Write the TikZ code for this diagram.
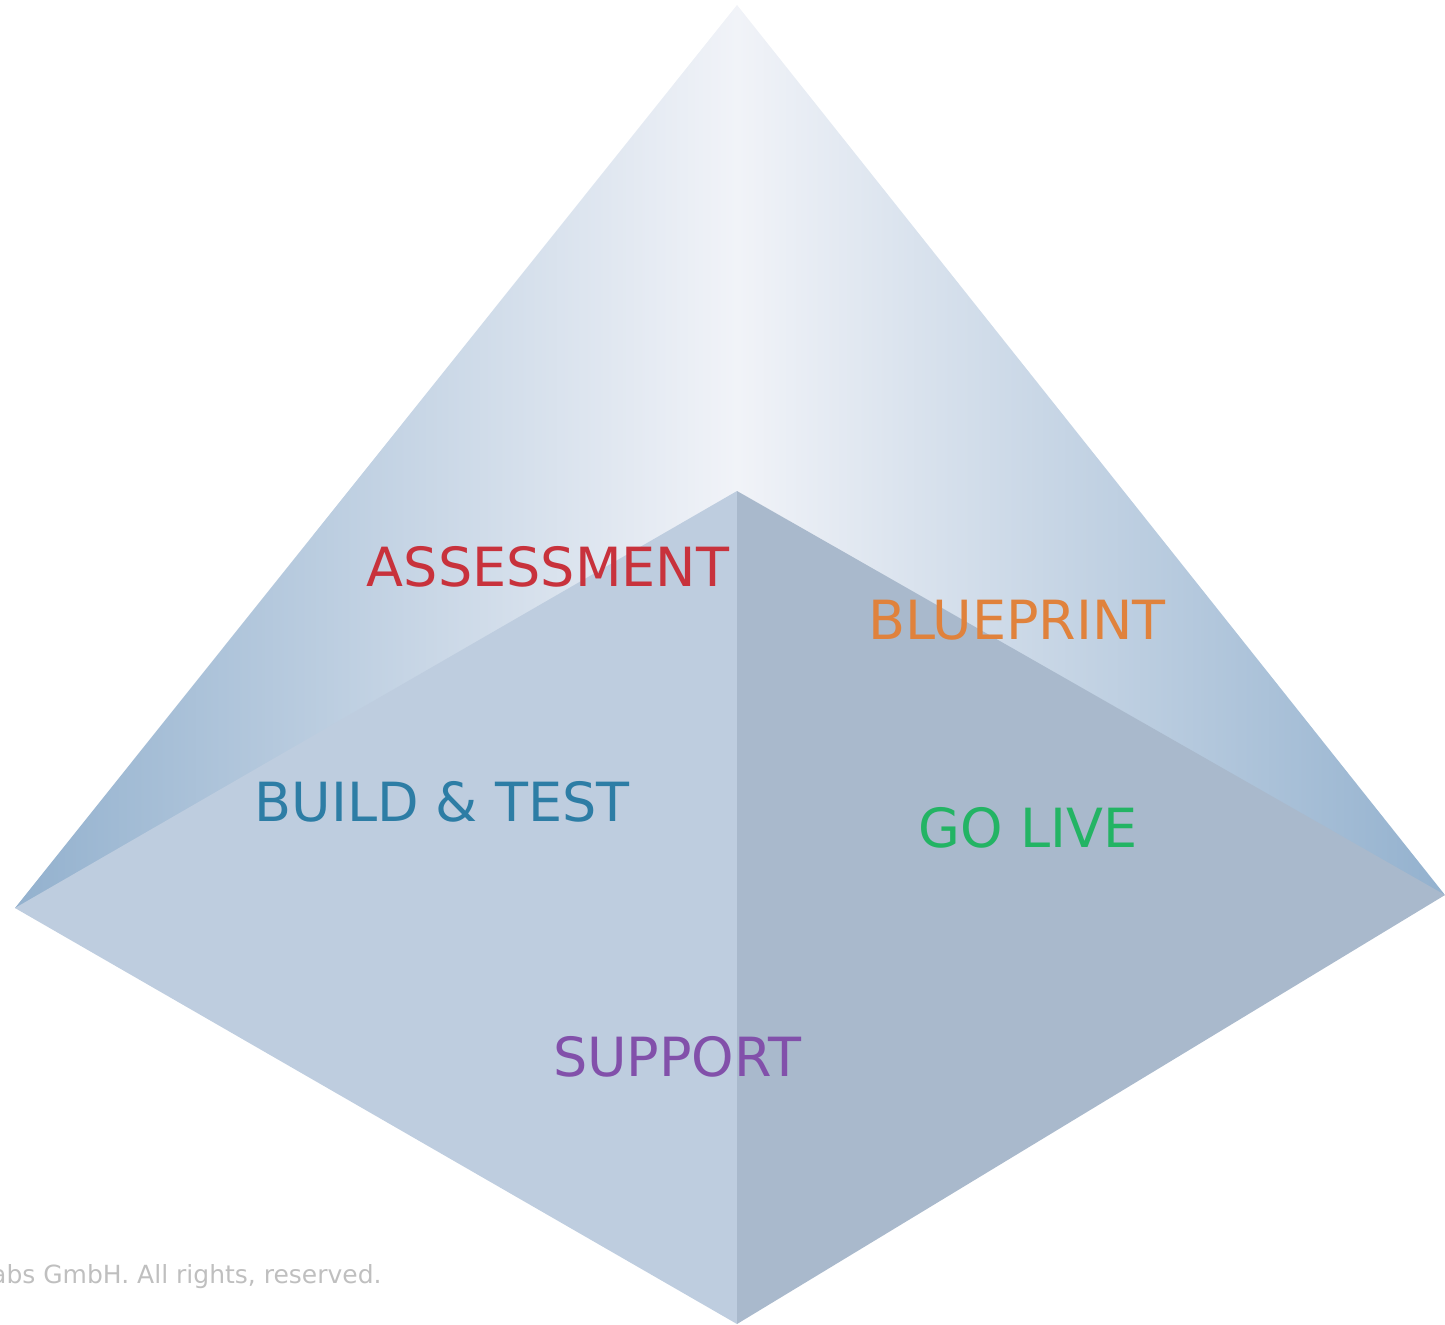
\documentclass[tikz,border=0pt]{standalone}
\usepackage{fontspec}
\setmainfont{DejaVu Sans}
\definecolor{edgeblue}{RGB}{147,177,206}
\definecolor{midwhite}{RGB}{241,243,248}
\definecolor{frontleft}{RGB}{190,205,223}
\definecolor{frontright}{RGB}{169,185,204}
\definecolor{assesscol}{RGB}{200,50,60}
\definecolor{bluecol}{RGB}{224,130,60}
\definecolor{buildcol}{RGB}{45,125,165}
\definecolor{livecol}{RGB}{35,180,100}
\definecolor{supportcol}{RGB}{130,80,170}
\begin{document}
\begin{tikzpicture}[phase/.style={font=\fontsize{27}{32}\selectfont,inner sep=0pt}]
\pgfsetxvec{\pgfpoint{0.5pt}{0}}
\pgfsetyvec{\pgfpoint{0}{-0.5pt}}
  \useasboundingbox[clip] (0,0) rectangle (1445,1324);
  \coordinate (top) at (737,5);
  \coordinate (left) at (15,908);
  \coordinate (right) at (1445,895);
  \coordinate (inner) at (737,491);
  \coordinate (bottom) at (737,1324);
  \coordinate (midl) at (737,908);
  \coordinate (midr) at (737,895);
  % back faces
  \shade[left color=edgeblue,right color=midwhite] (top)--(left)--(midl)--cycle;
  \shade[left color=midwhite,right color=edgeblue] (top)--(midr)--(right)--cycle;
  % front faces
  \fill[frontleft] (inner)--(left)--(bottom)--cycle;
  \fill[frontright] (inner)--(right)--(bottom)--cycle;
  \node[phase,text=assesscol] (assess) at (548,567) {ASSESSMENT};
  \node[phase,text=bluecol] (blueprint) at (1017,620) {BLUEPRINT};
  \node[phase,text=buildcol] (build) at (442,802) {BUILD \& TEST};
  \node[phase,text=livecol] (golive) at (1028,828) {GO LIVE};
  \node[phase,text=supportcol] (support) at (677,1057) {SUPPORT};
  \node[anchor=base east,text=black!25,font=\fontsize{12.5}{15}\selectfont,inner sep=0pt] (rights) at (382,1283) {Labs GmbH. All rights, reserved.};
\end{tikzpicture}
\end{document}
